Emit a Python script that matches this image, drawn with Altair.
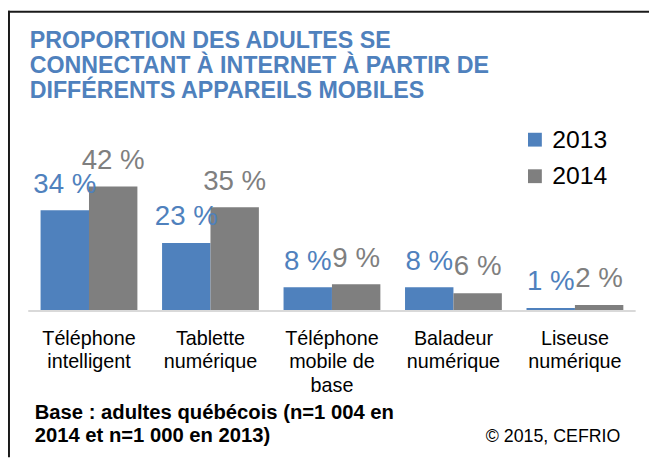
import altair as alt
import pandas as pd

categories = ["Téléphone\nintelligent", "Tablette\nnumérique", "Téléphone\nmobile de\nbase",
              "Baladeur\nnumérique", "Liseuse\nnumérique"]
years = ["2013", "2014"]
values_2013 = [34, 23, 8, 8, 1]
values_2014 = [42, 35, 9, 6, 2]

title_text = "PROPORTION DES ADULTES SE\nCONNECTANT À INTERNET À PARTIR DE\nDIFFÉRENTS APPAREILS MOBILES"
footer_text = "Base : adultes québécois (n=1 004 en\n2014 et n=1 000 en 2013)"
credit_text = "© 2015, CEFRIO"

BLUE = "#4F81BD"
GRAY = "#7F7F7F"
FONT = "Liberation Sans"

rows = []
for c, a, b in zip(categories, values_2013, values_2014):
    rows.append({"cat": c, "year": "2013", "value": a, "label": f"{a} %"})
    rows.append({"cat": c, "year": "2014", "value": b, "label": f"{b} %"})
df = pd.DataFrame(rows)
one = pd.DataFrame({"a": [0]})
cats_df = pd.DataFrame({"cat": categories})

xscale = alt.Scale(domain=categories, range=[20.5, 635.5], paddingInner=0.203, paddingOuter=0.1015)
yscale = alt.Scale(domain=[0, 100], range=[304, 4])
xoff = alt.Scale(domain=years, paddingInner=0, paddingOuter=0)

X = alt.X("cat:N", scale=xscale, sort=None, axis=None)
Y = alt.Y("value:Q", scale=yscale, axis=None)
XO = alt.XOffset("year:N", scale=xoff)

bars = alt.Chart(df).mark_bar().encode(
    x=X, xOffset=XO, y=Y,
    color=alt.Color("year:N", scale=alt.Scale(domain=years, range=[BLUE, GRAY]),
                    legend=alt.Legend(title=None, orient="none", legendX=521, legendY=118,
                                      symbolType="square", symbolSize=196, symbolStrokeWidth=0,
                                      symbolOpacity=1, labelFontSize=25, labelFont=FONT,
                                      labelColor="black", rowPadding=11, labelOffset=5, padding=0)),
)

def val_text(year, color):
    return alt.Chart(df).transform_filter(alt.datum.year == year).mark_text(
        font=FONT, fontSize=28, color=color, baseline="alphabetic", dy=-18
    ).encode(x=X, xOffset=XO, y=Y, text="label:N")

baseline_rule = alt.Chart(one).mark_rule(color="#D9D9D9", strokeWidth=2).encode(
    y=alt.datum(0, scale=yscale), x=alt.value(20.5), x2=alt.value(635.5))

xlabels = alt.Chart(cats_df).mark_text(
    font=FONT, fontSize=20, color="black", lineBreak="\n", lineHeight=24, baseline="alphabetic"
).encode(x=X, y=alt.value(338), text="cat:N")

title = alt.Chart(one).mark_text(
    text=title_text, font=FONT, fontSize=23.5, fontWeight="bold", color=BLUE, align="left",
    baseline="alphabetic", lineBreak="\n", lineHeight=25
).encode(x=alt.value(22), y=alt.value(38))

footer = alt.Chart(one).mark_text(
    text=footer_text, font=FONT, fontSize=20.5, fontWeight="bold", color="black", align="left",
    baseline="alphabetic", lineBreak="\n", lineHeight=24
).encode(x=alt.value(27), y=alt.value(413))

credit = alt.Chart(one).mark_text(
    text=credit_text, font=FONT, fontSize=18, color="black", align="right", baseline="alphabetic"
).encode(x=alt.value(620), y=alt.value(437))

border_top = alt.Chart(one).mark_rule(color="#1a1a1a", strokeWidth=2).encode(
    x=alt.value(0), x2=alt.value(649), y=alt.value(1))
border_left = alt.Chart(one).mark_rule(color="#1a1a1a", strokeWidth=2).encode(
    x=alt.value(1), y=alt.value(0), y2=alt.value(452))

chart = alt.layer(
    bars, val_text("2013", BLUE), val_text("2014", GRAY), baseline_rule, xlabels,
    title, footer, credit, border_top, border_left
).properties(width=649, height=452, autosize="none", padding=0, background="white"
).configure_view(stroke=None)

chart.save("out.html", embed_options={"renderer": "svg", "actions": False})
